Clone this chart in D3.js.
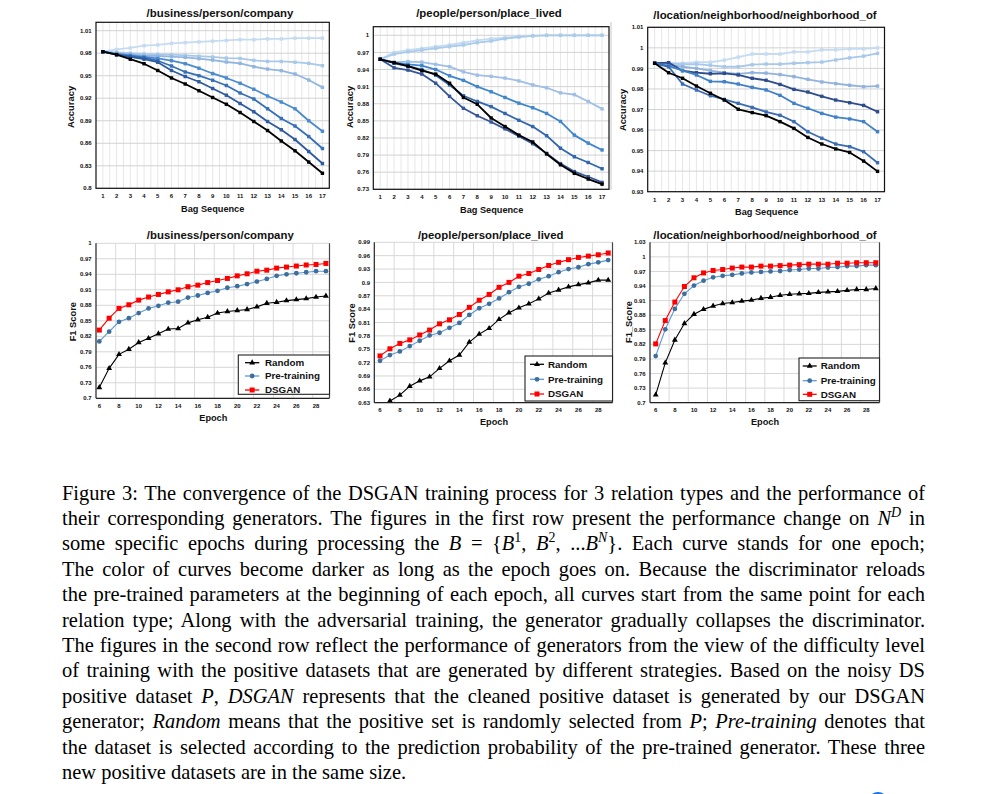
<!DOCTYPE html>
<html><head><meta charset="utf-8">
<script src="https://cdn.jsdelivr.net/npm/d3@7"></script>
<style>body{margin:0;background:#fff} svg{display:block}</style>
</head><body>
<svg id="fig" width="981" height="794"></svg>
<script>
// ---------------- DATA ----------------
const bagSequence = [1,2,3,4,5,6,7,8,9,10,11,12,13,14,15,16,17];
const epochs = [6,7,8,9,10,11,12,13,14,15,16,17,18,19,20,21,22,23,24,25,26,27,28,29];
const epochTicks = [6,8,10,12,14,16,18,20,22,24,26,28];

const titleCompany = '/business/person/company';
const titlePlace = '/people/person/place_lived';
const titleNeighbor = '/location/neighborhood/neighborhood_of';

// Top row: accuracy on N^D over the bag sequence, one curve per epoch (light -> dark)
const companyEpoch1 = [0.982,0.985,0.987,0.990,0.991,0.993,0.994,0.995,0.996,0.997,0.998,0.998,0.999,0.999,1.000,1.000,1.000];
const companyEpoch2 = [0.982,0.981,0.980,0.979,0.9785,0.978,0.977,0.976,0.975,0.9735,0.973,0.9705,0.969,0.969,0.968,0.9665,0.9634];
const companyEpoch3 = [0.982,0.9798,0.9785,0.9767,0.9763,0.9754,0.9745,0.9727,0.9709,0.9683,0.9665,0.962,0.9589,0.9567,0.9523,0.9443,0.9345];
const companyEpoch4 = [0.982,0.979,0.977,0.975,0.973,0.970,0.966,0.960,0.953,0.947,0.940,0.932,0.923,0.915,0.906,0.890,0.876];
const companyEpoch5 = [0.982,0.978,0.976,0.974,0.970,0.963,0.955,0.950,0.944,0.937,0.927,0.919,0.906,0.893,0.883,0.869,0.853];
const companyEpoch6 = [0.982,0.978,0.975,0.972,0.968,0.957,0.949,0.942,0.933,0.924,0.913,0.902,0.889,0.878,0.865,0.849,0.833];
const companyEpoch7 = [0.982,0.978,0.972,0.966,0.957,0.947,0.939,0.930,0.921,0.912,0.901,0.889,0.877,0.863,0.850,0.835,0.820];

const placeEpoch1 = [0.958,0.970,0.974,0.977,0.980,0.983,0.987,0.991,0.994,0.996,0.998,0.999,1.0,1.0,1.0,1.0,1.0];
const placeEpoch2 = [0.958,0.967,0.971,0.974,0.977,0.980,0.983,0.987,0.990,0.994,0.997,0.999,1.0,1.0,1.0,1.0,1.0];
const placeEpoch3 = [0.958,0.953,0.954,0.953,0.949,0.945,0.936,0.930,0.928,0.925,0.920,0.913,0.908,0.899,0.896,0.884,0.871];
const placeEpoch4 = [0.958,0.952,0.949,0.947,0.940,0.929,0.921,0.910,0.901,0.891,0.881,0.873,0.863,0.849,0.825,0.811,0.799];
const placeEpoch5 = [0.958,0.951,0.946,0.940,0.930,0.913,0.894,0.884,0.875,0.863,0.851,0.840,0.824,0.802,0.787,0.777,0.766];
const placeEpoch6 = [0.958,0.943,0.939,0.932,0.916,0.893,0.872,0.859,0.848,0.836,0.823,0.810,0.793,0.775,0.761,0.752,0.742];
const placeEpoch7 = [0.958,0.952,0.946,0.938,0.932,0.916,0.891,0.879,0.855,0.840,0.825,0.813,0.792,0.773,0.758,0.748,0.739];

const neighborEpoch1 = [0.9925,0.9925,0.9925,0.993,0.993,0.994,0.9955,0.997,0.997,0.997,0.998,0.998,0.999,0.999,0.9995,0.9995,1.0];
const neighborEpoch2 = [0.9925,0.9925,0.9920,0.9921,0.9915,0.9908,0.9908,0.9918,0.9921,0.9921,0.9925,0.9928,0.9931,0.9941,0.9951,0.9960,0.9973];
const neighborEpoch3 = [0.9925,0.9917,0.9908,0.9900,0.9889,0.9879,0.9873,0.9879,0.9877,0.9870,0.9860,0.9847,0.9834,0.9826,0.9818,0.9811,0.9814];
const neighborEpoch4 = [0.9925,0.9928,0.9889,0.9879,0.9874,0.9876,0.9868,0.9852,0.9842,0.9822,0.9798,0.9785,0.9764,0.9746,0.9733,0.9720,0.9689];
const neighborEpoch5 = [0.9925,0.9912,0.9889,0.9868,0.9837,0.9835,0.9824,0.9808,0.9795,0.9769,0.9730,0.9706,0.9681,0.9663,0.9654,0.9641,0.9592];
const neighborEpoch6 = [0.9925,0.9908,0.9824,0.9795,0.9767,0.9749,0.9730,0.9710,0.9688,0.9672,0.9641,0.9592,0.9560,0.9532,0.9519,0.9495,0.9441];
const neighborEpoch7 = [0.9925,0.9879,0.9852,0.9814,0.9779,0.9746,0.9701,0.9685,0.9670,0.9641,0.9608,0.9564,0.9532,0.9508,0.9491,0.9449,0.9399];

const accTicksCompany = ['0.8','0.83','0.86','0.89','0.92','0.95','0.98','1.01'];
const accTicksPlace = ['0.73','0.76','0.79','0.82','0.85','0.88','0.91','0.94','0.97','1'];
const accTicksNeighbor = ['0.93','0.94','0.95','0.96','0.97','0.98','0.99','1','1.01'];

// Bottom row: F1 score per epoch for the three positive-set strategies
const seriesNames = ['Random','Pre-training','DSGAN'];
const companyRandom   = [0.721,0.758,0.785,0.795,0.808,0.816,0.825,0.834,0.835,0.846,0.852,0.857,0.865,0.868,0.870,0.872,0.877,0.884,0.886,0.889,0.891,0.893,0.896,0.898];
const companyPretrain = [0.810,0.829,0.848,0.855,0.865,0.874,0.879,0.885,0.887,0.895,0.899,0.904,0.908,0.914,0.917,0.921,0.926,0.931,0.937,0.940,0.942,0.944,0.946,0.946];
const companyDSGAN    = [0.832,0.855,0.874,0.881,0.890,0.896,0.901,0.906,0.910,0.916,0.919,0.924,0.928,0.932,0.937,0.941,0.946,0.948,0.952,0.954,0.956,0.958,0.959,0.961];

const placeRandom   = [0.615,0.634,0.647,0.667,0.679,0.688,0.707,0.724,0.737,0.766,0.784,0.797,0.817,0.832,0.843,0.852,0.863,0.876,0.883,0.890,0.895,0.899,0.905,0.905];
const placePretrain = [0.724,0.737,0.745,0.757,0.769,0.781,0.787,0.798,0.809,0.827,0.842,0.852,0.864,0.878,0.890,0.897,0.907,0.914,0.923,0.930,0.934,0.941,0.945,0.950];
const placeDSGAN    = [0.735,0.751,0.763,0.771,0.782,0.793,0.807,0.816,0.828,0.844,0.860,0.873,0.889,0.900,0.914,0.920,0.929,0.938,0.945,0.951,0.956,0.959,0.962,0.966];

const neighborRandom   = [0.716,0.782,0.829,0.863,0.882,0.892,0.899,0.904,0.906,0.909,0.911,0.915,0.917,0.921,0.923,0.924,0.925,0.927,0.928,0.929,0.931,0.933,0.933,0.935];
const neighborPretrain = [0.796,0.851,0.893,0.924,0.941,0.951,0.958,0.961,0.963,0.966,0.968,0.969,0.970,0.971,0.973,0.974,0.976,0.976,0.978,0.979,0.981,0.981,0.983,0.983];
const neighborDSGAN    = [0.821,0.869,0.907,0.939,0.957,0.967,0.972,0.974,0.977,0.979,0.979,0.981,0.981,0.982,0.983,0.984,0.985,0.985,0.985,0.987,0.987,0.988,0.988,0.988];

const f1TicksCompany = ['0.7','0.73','0.76','0.79','0.82','0.85','0.88','0.91','0.94','0.97','1'];
const f1TicksPlace = ['0.63','0.66','0.69','0.72','0.75','0.78','0.81','0.84','0.87','0.9','0.93','0.96','0.99'];
const f1TicksNeighbor = ['0.7','0.73','0.76','0.79','0.82','0.85','0.88','0.91','0.94','0.97','1','1.03'];

const captionLines = [
 [['Figure 3: The convergence of the DSGAN training process for 3 relation types and the performance of','']],
 [['their corresponding generators. The figures in the first row present the performance change on ',''],['N','i'],['D','isup'],[' in','']],
 [['some specific epochs during processing the ',''],['B','i'],[' = {',''],['B','i'],['1','sup'],[', ',''],['B','i'],['2','sup'],[', ...',''],['B','i'],['N','isup'],['}. Each curve stands for one epoch;','']],
 [['The color of curves become darker as long as the epoch goes on. Because the discriminator reloads','']],
 [['the pre-trained parameters at the beginning of each epoch, all curves start from the same point for each','']],
 [['relation type; Along with the adversarial training, the generator gradually collapses the discriminator.','']],
 [['The figures in the second row reflect the performance of generators from the view of the difficulty level','']],
 [['of training with the positive datasets that are generated by different strategies. Based on the noisy DS','']],
 [['positive dataset ',''],['P','i'],[', ',''],['DSGAN','i'],[' represents that the cleaned positive dataset is generated by our DSGAN','']],
 [['generator; ',''],['Random','i'],[' means that the positive set is randomly selected from ',''],['P','i'],['; ',''],['Pre-training','i'],[' denotes that','']],
 [['the dataset is selected according to the prediction probability of the pre-trained generator. These three','']],
 [['new positive datasets are in the same size.','']]
];

// ---------------- DRAWING ----------------
const svg = d3.select('#fig');
svg.append('rect').attr('width',981).attr('height',794).attr('fill','#fff');
const SANS = '"Liberation Sans", Arial, sans-serif';
const SERIF = '"Liberation Serif", "Times New Roman", serif';
let clipId = 0;

function txt(g, x, y, s, size, anchor, extra) {
  const t = g.append('text').attr('x',x).attr('y',y).text(s)
    .attr('font-family',SANS).attr('font-weight','bold').attr('font-size',size)
    .attr('text-anchor',anchor||'middle').attr('fill','#111');
  if (extra) extra(t);
  return t;
}

function topPanel(cfg) {
  const g = svg.append('g');
  const x = d3.scalePoint().domain(bagSequence).range([cfg.x0, cfg.x1]).padding(0.5);
  const y = d3.scaleLinear().domain(cfg.yDomain).range(cfg.yRange);
  const yB = cfg.yRange[0];
  const step = x.step();
  const vx = [];
  bagSequence.forEach(b => { vx.push(x(b)); if (b < bagSequence[bagSequence.length-1]) vx.push(x(b)+step/2); });
  g.selectAll(null).data(vx).enter().append('line')
    .attr('x1',d=>d).attr('x2',d=>d).attr('y1',cfg.yTop).attr('y2',yB)
    .attr('stroke','#e4e4e4').attr('stroke-width',0.9);
  g.selectAll(null).data(cfg.ticks).enter().append('line')
    .attr('x1',cfg.x0).attr('x2',cfg.x1).attr('y1',d=>y(+d)).attr('y2',d=>y(+d))
    .attr('stroke','#d2d2d2').attr('stroke-width',1);
  const line = d3.line().x((d,i)=>x(bagSequence[i])).y(d=>y(d));
  cfg.series.forEach((s,k) => {
    const c = cfg.colors[k];
    g.append('path').attr('d',line(s)).attr('fill','none').attr('stroke',c).attr('stroke-width',1.8).attr('stroke-linejoin','round');
    g.selectAll(null).data(s).enter().append('rect')
      .attr('x',(d,i)=>x(bagSequence[i])-1.7).attr('y',d=>y(d)-1.7)
      .attr('width',3.4).attr('height',3.4).attr('fill',c);
  });
  g.append('rect').attr('x',cfg.x0).attr('y',cfg.yTop).attr('width',cfg.x1-cfg.x0).attr('height',yB-cfg.yTop)
    .attr('fill','none').attr('stroke','#111').attr('stroke-width',1.2);
  cfg.ticks.forEach(d => txt(g, cfg.x0-4.3, y(+d)+2.1, d, 6, 'end'));
  bagSequence.forEach(b => txt(g, x(b), yB+9.8, String(b), 6, 'middle'));
  txt(g, cfg.titleX, cfg.titleY, cfg.title, 11.4, 'middle');
  txt(g, cfg.xLabX, yB+23.5, 'Bag Sequence', 9.2, 'middle');
  txt(g, 0, 0, 'Accuracy', 9.4, 'middle', t => t.attr('transform',`translate(${cfg.yLabX},${cfg.yLabY}) rotate(-90)`).attr('dy','0.35em'));
}

const seriesStyle = [
  {line:'#000000', mark:'#000000', sym:'tri'},
  {line:'#5b9bd5', mark:'#3f6e9c', sym:'circ'},
  {line:'#ff0000', mark:'#ff0000', sym:'sq'}
];
function drawMark(g, sym, cx, cy, color) {
  if (sym === 'tri') g.append('path').attr('d', d3.symbol(d3.symbolTriangle, 15)()).attr('transform',`translate(${cx},${cy})`).attr('fill',color);
  else if (sym === 'circ') g.append('circle').attr('cx',cx).attr('cy',cy).attr('r',2.4).attr('fill',color);
  else g.append('rect').attr('x',cx-2.5).attr('y',cy-2.5).attr('width',5).attr('height',5).attr('fill',color);
}

function bottomPanel(cfg) {
  const g = svg.append('g');
  const x = d3.scaleLinear().domain([epochs[0], epochs[epochs.length-1]]).range(cfg.xRange);
  const y = d3.scaleLinear().domain(cfg.yDomain).range(cfg.yRange);
  const yB = cfg.yRange[0], yT = cfg.yRange[1];
  const step = x(epochs[1]) - x(epochs[0]);
  const vx = d3.range(1, 12).map(k => cfg.x0 + k*2*step).filter(v => v < cfg.x1 - 2);
  g.selectAll(null).data(vx).enter().append('line')
    .attr('x1',d=>d).attr('x2',d=>d).attr('y1',yT).attr('y2',yB).attr('stroke','#dadada').attr('stroke-width',1);
  g.selectAll(null).data(cfg.ticks).enter().append('line')
    .attr('x1',cfg.x0).attr('x2',cfg.x1).attr('y1',d=>y(+d)).attr('y2',d=>y(+d)).attr('stroke','#d6d6d6').attr('stroke-width',1);
  const id = 'clip' + (clipId++);
  svg.append('clipPath').attr('id',id).append('rect').attr('x',cfg.x0).attr('y',yT-6).attr('width',cfg.x1-cfg.x0).attr('height',yB-yT+6);
  const pg = g.append('g').attr('clip-path',`url(#${id})`);
  const line = d3.line().x((d,i)=>x(epochs[i])).y(d=>y(d));
  cfg.series.forEach((s,k) => {
    const st = seriesStyle[k];
    pg.append('path').attr('d',line(s)).attr('fill','none').attr('stroke',st.line).attr('stroke-width',1.1);
    s.forEach((v,i) => drawMark(pg, st.sym, x(epochs[i]), y(v), st.mark));
  });
  g.append('line').attr('x1',cfg.x0).attr('x2',cfg.x0).attr('y1',yT).attr('y2',yB).attr('stroke','#222').attr('stroke-width',1.2);
  g.append('line').attr('x1',cfg.x1).attr('x2',cfg.x1).attr('y1',yT).attr('y2',yB).attr('stroke','#444').attr('stroke-width',1.2);
  g.append('line').attr('x1',cfg.x0).attr('x2',cfg.x1).attr('y1',yB).attr('y2',yB).attr('stroke','#222').attr('stroke-width',1.2);
  cfg.ticks.forEach(d => txt(g, cfg.x0-4.3, y(+d)+2.1, d, 6, 'end'));
  epochTicks.forEach(e => txt(g, x(e), yB+9.7, String(e), 6, 'middle'));
  txt(g, cfg.titleX, cfg.titleY, cfg.title, 11.4, 'middle');
  txt(g, cfg.xLabX, yB+22.5, 'Epoch', 9.2, 'middle');
  txt(g, 0, 0, cfg.yLab, 9.3, 'middle', t => t.attr('transform',`translate(${cfg.yLabX},${cfg.yLabY}) rotate(-90)`).attr('dy','0.35em'));
  // legend
  const L = cfg.legend;
  g.append('rect').attr('x',L.x).attr('y',L.y).attr('width',L.w).attr('height',L.h).attr('fill','#fff').attr('stroke','#222').attr('stroke-width',1.1);
  seriesNames.forEach((n,k) => {
    const st = seriesStyle[k];
    const ry = L.rows[k];
    g.append('line').attr('x1',L.lx0).attr('x2',L.lx1).attr('y1',ry).attr('y2',ry).attr('stroke',st.line).attr('stroke-width',1.3);
    drawMark(g, st.sym, (L.lx0+L.lx1)/2, ry, st.mark);
    txt(g, L.tx, ry, n, 9.8, 'start', t => t.attr('dy','0.35em'));
  });
}

topPanel({title:titleCompany, titleX:220, titleY:17, x0:96, x1:329.3, yTop:22.3,
  yDomain:[0.8,1.01], yRange:[188.3,30.7], ticks:accTicksCompany,
  series:[companyEpoch1,companyEpoch2,companyEpoch3,companyEpoch4,companyEpoch5,companyEpoch6,companyEpoch7],
  colors:['#c4dbf1','#a8c8ea','#92b6e0','#4a8bd0','#3570b9','#2d5aa0','#000000'],
  xLabX:212.7, yLabX:71, yLabY:107});
topPanel({title:titlePlace, titleX:489, titleY:17, x0:373.3, x1:609, yTop:26.7,
  yDomain:[0.73,1], yRange:[189.3,35.3], ticks:accTicksPlace,
  series:[placeEpoch1,placeEpoch2,placeEpoch3,placeEpoch4,placeEpoch5,placeEpoch6,placeEpoch7],
  colors:['#c4dbf1','#aacbea','#9ebfe6','#3f86cc','#2f66ad','#36569a','#000000'],
  xLabX:491.7, yLabX:349.3, yLabY:107});
topPanel({title:titleNeighbor, titleX:765, titleY:19, x0:647.7, x1:884.5, yTop:27.3,
  yDomain:[0.93,1.01], yRange:[191.7,27.3], ticks:accTicksNeighbor,
  series:[neighborEpoch1,neighborEpoch2,neighborEpoch3,neighborEpoch4,neighborEpoch5,neighborEpoch6,neighborEpoch7],
  colors:['#c4dbf1','#a8c8ea','#92b2de','#2c4c8c','#3f80c8','#3a6bb3','#000000'],
  xLabX:766.7, yLabX:622.7, yLabY:110});

bottomPanel({title:titleCompany, titleX:220.3, titleY:239, x0:96, x1:329.5,
  xRange:[99.3,325.9], yDomain:[0.7,1], yRange:[398.3,243.3], ticks:f1TicksCompany,
  series:[companyRandom,companyPretrain,companyDSGAN], yLab:'F1 Score', yLabX:73, yLabY:321.7, xLabX:213.3,
  legend:{x:238.3,y:355,w:91.2,h:39.3,rows:[362.7,376,390],lx0:245,lx1:259.3,tx:265}});
bottomPanel({title:titlePlace, titleX:490.7, titleY:239, x0:374.3, x1:612.5,
  xRange:[380,608.2], yDomain:[0.63,0.99], yRange:[402.7,242.3], ticks:f1TicksPlace,
  series:[placeRandom,placePretrain,placeDSGAN], yLab:'F1 Score', yLabX:351.7, yLabY:323, xLabX:494,
  legend:{x:525,y:356,w:87.5,h:45,rows:[364.3,379.3,394],lx0:530,lx1:544,tx:548}});
bottomPanel({title:titleNeighbor, titleX:765, titleY:239, x0:650, x1:879.5,
  xRange:[655.7,875.8], yDomain:[0.7,1.03], yRange:[402.7,242.3], ticks:f1TicksNeighbor,
  series:[neighborRandom,neighborPretrain,neighborDSGAN], yLab:'F1_Score', yLabX:629, yLabY:322, xLabX:765,
  legend:{x:799,y:358,w:80.5,h:42.7,rows:[366,380.7,394.3],lx0:802.7,lx1:816.7,tx:820.7}});

// faint separator seen between panels 2 and 3
svg.append('line').attr('x1',611).attr('x2',611).attr('y1',22).attr('y2',190).attr('stroke','#c8c8c8').attr('stroke-width',1);

// ---------------- CAPTION ----------------
const capX = 62, capW = 863, capBase = 499.5, capStep = 25.4, capSize = 22, capScale = 0.93;
captionLines.forEach((segs, i) => {
  const g = svg.append('g').attr('transform',`translate(${capX},${capBase + i*capStep}) scale(${capScale},1)`);
  const t = g.append('text').attr('x',0).attr('y',0).attr('font-family',SERIF).attr('font-size',capSize).attr('fill','#000');
  let raised = false;
  segs.forEach(([s, st]) => {
    const sp = t.append('tspan').text(s);
    if (st.includes('i')) sp.attr('font-style','italic');
    if (st.includes('sup')) { sp.attr('font-size',15); if (!raised) { sp.attr('dy',-8); raised = true; } }
    else if (raised) { sp.attr('dy',8); raised = false; }
  });
  if (i < captionLines.length - 1) {
    const w = t.node().getComputedTextLength();
    const full = segs.map(s => s[0]).join('');
    const n = (full.match(/ /g) || []).length;
    const extra = (capW / capScale - w) / n;
    t.style('word-spacing', extra + 'px');
  }
});

// small blue mark cut by the bottom edge
svg.append('circle').attr('cx',878).attr('cy',802).attr('r',10).attr('fill','#1a73e8');
</script>
</body></html>
